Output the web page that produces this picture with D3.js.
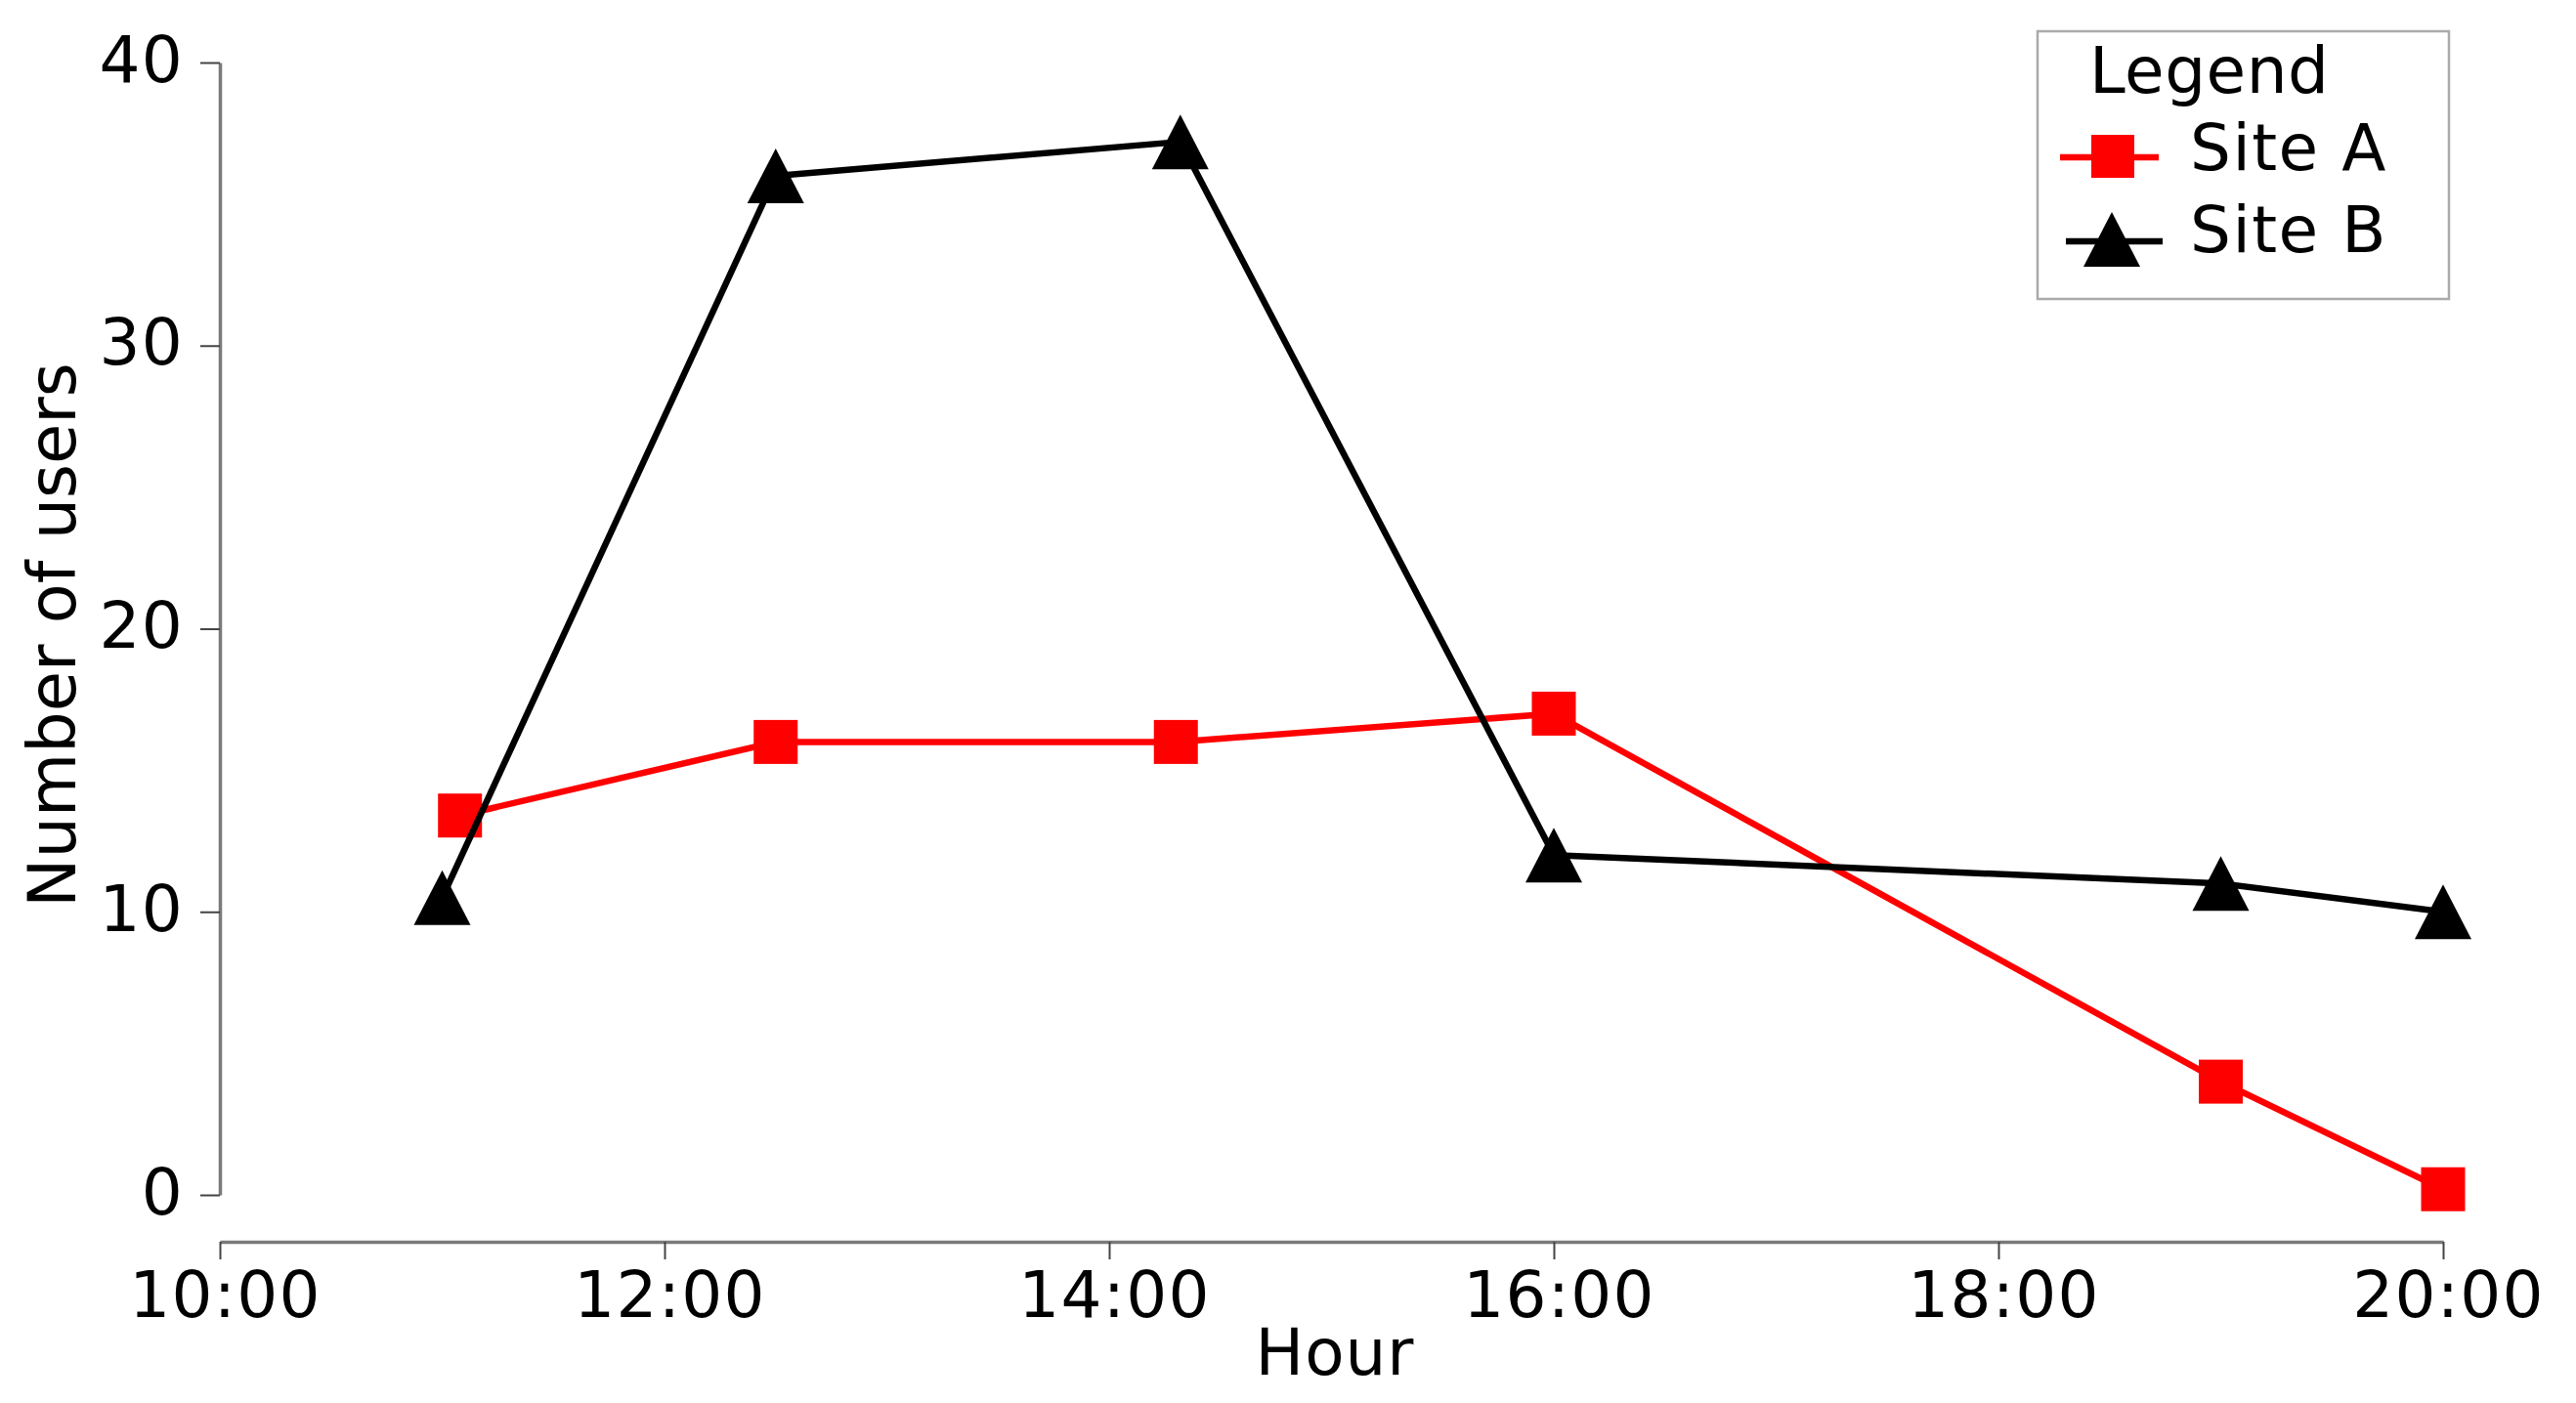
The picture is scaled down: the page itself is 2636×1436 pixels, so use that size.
<!DOCTYPE html>
<html>
<head>
<meta charset="utf-8">
<script src="https://cdn.jsdelivr.net/npm/d3@7"></script>
<style>
  html, body { margin: 0; padding: 0; background: #fff; }
  svg { display: block; }
  text { font-family: "DejaVu Sans", Verdana, sans-serif; fill: #000; }
</style>
</head>
<body>
<svg id="chart" width="2636" height="1436"></svg>
<script>
// ---- data (hours as decimal) ----
const siteAHours  = [11.08, 12.5, 14.3, 16, 19, 20];
const siteAValues = [13.4, 16, 16, 17, 4, 0.2];
const siteBHours  = [11.0, 12.5, 14.32, 16, 19, 20];
const siteBValues = [10.5, 36, 37.2, 12, 11, 10];
const xTickValues = [10, 12, 14, 16, 18, 20];
const yTickValues = [0, 10, 20, 30, 40];
const seriesNames = ["Site A", "Site B"];
const legendTitle = "Legend";
const xTitle = "Hour";
const yTitle = "Number of users";

const svg = d3.select("#chart");
const x = d3.scaleLinear().domain([10, 20]).range([225, 2500]);
const y = d3.scaleLinear().domain([0, 40]).range([1223, 64]);

const fmtHour = h => String(Math.floor(h)).padStart(2, "0") + ":00";

// x axis
const gx = svg.append("g").attr("transform", "translate(0,1271)")
  .call(d3.axisBottom(x).tickValues(xTickValues).tickFormat(fmtHour)
        .tickSize(18).tickSizeOuter(0).tickPadding(12));
// y axis
const gy = svg.append("g").attr("transform", "translate(225,0)")
  .call(d3.axisLeft(y).tickValues(yTickValues)
        .tickSize(20).tickSizeOuter(0).tickPadding(17));

[gx, gy].forEach(g => {
  g.select(".domain").attr("stroke", "#7a7a7a").attr("stroke-width", 3.5);
  g.selectAll(".tick line").attr("stroke", "#444").attr("stroke-width", 2);
  g.selectAll(".tick text").attr("font-size", 66)
    .attr("font-family", "DejaVu Sans, sans-serif").attr("fill", "#000")
    .attr("letter-spacing", "1.3px");
});
gx.selectAll(".tick text").attr("dx", 5);
gy.selectAll(".tick text").attr("dy", "0.29em");

// axis titles
svg.append("text").attr("x", 1366).attr("y", 1407)
  .attr("text-anchor", "middle").attr("font-size", 66).attr("letter-spacing", "1px").text(xTitle);
svg.append("text").attr("transform", "translate(77,650) rotate(-90)")
  .attr("text-anchor", "middle").attr("font-size", 67).text(yTitle);

// markers
const sq = 45;
const triPath = "M0,-28L29,28L-29,28Z";
const line = d3.line().x(d => x(d[0])).y(d => y(d[1]));

const dataA = siteAHours.map((h, i) => [h, siteAValues[i]]);
const dataB = siteBHours.map((h, i) => [h, siteBValues[i]]);

// Site A
svg.append("path").datum(dataA).attr("d", line)
  .attr("fill", "none").attr("stroke", "#ff0000").attr("stroke-width", 6.5)
  .attr("stroke-linejoin", "round");
svg.append("g").selectAll("rect").data(dataA).join("rect")
  .attr("x", d => x(d[0]) - sq / 2).attr("y", d => y(d[1]) - sq / 2)
  .attr("width", sq).attr("height", sq).attr("fill", "#ff0000");

// Site B
svg.append("path").datum(dataB).attr("d", line)
  .attr("fill", "none").attr("stroke", "#000").attr("stroke-width", 6.5)
  .attr("stroke-linejoin", "round");
svg.append("g").selectAll("path").data(dataB).join("path")
  .attr("transform", d => `translate(${x(d[0])},${y(d[1])})`)
  .attr("d", triPath).attr("fill", "#000");

// legend
const lg = svg.append("g");
lg.append("rect").attr("x", 2085).attr("y", 32).attr("width", 421).attr("height", 274)
  .attr("fill", "#fff").attr("stroke", "#aaa").attr("stroke-width", 2.5);
lg.append("text").attr("x", 2138).attr("y", 95).attr("font-size", 66).attr("letter-spacing", "0.5px").text(legendTitle);
// Site A entry
lg.append("line").attr("x1", 2108).attr("x2", 2209).attr("y1", 161).attr("y2", 161)
  .attr("stroke", "#ff0000").attr("stroke-width", 6.5);
lg.append("rect").attr("x", 2162 - 22).attr("y", 160 - 22).attr("width", 44).attr("height", 44)
  .attr("fill", "#ff0000");
lg.append("text").attr("x", 2241).attr("y", 174).attr("font-size", 66).attr("letter-spacing", "1.5px").text(seriesNames[0]);
// Site B entry
lg.append("line").attr("x1", 2114).attr("x2", 2213).attr("y1", 247).attr("y2", 247)
  .attr("stroke", "#000").attr("stroke-width", 6.5);
lg.append("path").attr("transform", "translate(2161,245)").attr("d", triPath).attr("fill", "#000");
lg.append("text").attr("x", 2241).attr("y", 258).attr("font-size", 66).attr("letter-spacing", "1.5px").text(seriesNames[1]);
</script>
</body>
</html>
